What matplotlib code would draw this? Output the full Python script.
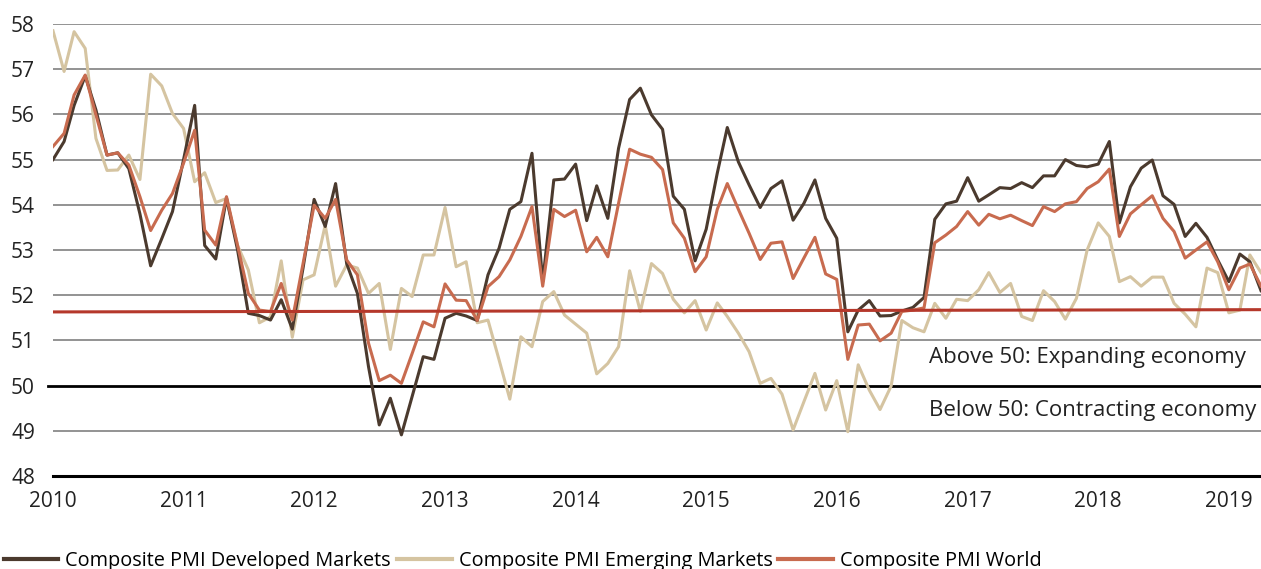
import matplotlib.pyplot as plt
import numpy as np
import pandas as pd

plt.rcParams['font.family'] = ['Open Sans', 'DejaVu Sans']

# monthly composite PMI, Jan 2010 - Apr 2019
months = pd.date_range('2010-01-01', periods=112, freq='MS')

developed = [55.0, 55.4, 56.2, 56.85, 56.1, 55.1, 55.15, 54.8, 53.8, 52.65,
             53.25, 53.85, 55.0, 56.2, 53.1, 52.8, 54.15, 53.0, 51.6, 51.55,
             51.45, 51.9, 51.25, 52.6, 54.12, 53.52, 54.47, 52.7, 52.04, 50.42,
             49.13, 49.72, 48.91, 49.76, 50.64, 50.58, 51.49, 51.6, 51.54, 51.44,
             52.45, 53.04, 53.9, 54.07, 55.14, 52.3, 54.55, 54.57, 54.9, 53.65,
             54.42, 53.7, 55.25, 56.33, 56.58, 55.99, 55.67, 54.19, 53.9, 52.76,
             53.46, 54.7, 55.71, 54.95, 54.44, 53.94, 54.36, 54.53, 53.66, 54.03,
             54.55, 53.7, 53.26, 51.19, 51.67, 51.88, 51.54, 51.55, 51.65, 51.73,
             51.95, 53.68, 54.02, 54.08, 54.6, 54.08, 54.22, 54.38, 54.36, 54.49,
             54.38, 54.64, 54.64, 55.0, 54.87, 54.84, 54.9, 55.4, 53.6, 54.4,
             54.81, 54.99, 54.2, 54.01, 53.3, 53.59, 53.28, 52.78, 52.3, 52.91,
             52.74, 52.1]

emerging = [57.85, 56.95, 57.83, 57.46, 55.47, 54.76, 54.77, 55.1, 54.56, 56.89,
            56.63, 56.02, 55.69, 54.51, 54.71, 54.05, 54.14, 53.1, 52.56, 51.39,
            51.52, 52.76, 51.07, 52.34, 52.45, 53.55, 52.2, 52.67, 52.6, 52.04,
            52.26, 50.8, 52.15, 51.97, 52.89, 52.89, 53.94, 52.63, 52.74, 51.39,
            51.45, 50.57, 49.7, 51.08, 50.86, 51.86, 52.08, 51.56, 51.36, 51.16,
            50.26, 50.49, 50.86, 52.54, 51.64, 52.7, 52.48, 51.91, 51.61, 51.88,
            51.23, 51.83, 51.53, 51.16, 50.75, 50.05, 50.16, 49.81, 49.02, 49.64,
            50.27, 49.46, 50.11, 48.98, 50.46, 49.9, 49.47, 49.99, 51.44, 51.28,
            51.19, 51.82, 51.49, 51.91, 51.88, 52.12, 52.5, 52.06, 52.26, 51.53,
            51.44, 52.1, 51.86, 51.47, 51.93, 53.0, 53.6, 53.3, 52.3, 52.41,
            52.2, 52.4, 52.4, 51.82, 51.58, 51.3, 52.6, 52.5, 51.61, 51.67,
            52.89, 52.5]

world = [55.29, 55.58, 56.43, 56.87, 55.99, 55.1, 55.15, 54.88, 54.18, 53.43,
         53.88, 54.25, 54.92, 55.65, 53.44, 53.11, 54.18, 53.1, 52.04, 51.67,
         51.64, 52.26, 51.45, 52.7, 53.99, 53.7, 54.12, 52.78, 52.45, 50.94,
         50.11, 50.23, 50.05, 50.71, 51.41, 51.3, 52.25, 51.89, 51.88, 51.44,
         52.19, 52.41, 52.78, 53.3, 53.96, 52.2, 53.9, 53.74, 53.88, 52.96,
         53.28, 52.85, 54.03, 55.23, 55.12, 55.05, 54.78, 53.6, 53.26, 52.52,
         52.85, 53.9, 54.47, 53.9, 53.37, 52.79, 53.15, 53.18, 52.37, 52.82,
         53.28, 52.47, 52.35, 50.58, 51.34, 51.36, 50.99, 51.16, 51.64, 51.67,
         51.72, 53.16, 53.33, 53.52, 53.85, 53.55, 53.79, 53.69, 53.77, 53.65,
         53.54, 53.96, 53.85, 54.02, 54.07, 54.36, 54.51, 54.79, 53.3, 53.8,
         54.0, 54.2, 53.7, 53.41, 52.82, 53.0, 53.18, 52.74, 52.12, 52.6,
         52.69, 52.2]

# trend line of the world index (start / end)
trend = [51.63, 51.68]

year_ticks = pd.date_range('2010-01-01', '2019-01-01', freq='YS')
year_labels = [str(d.year) for d in year_ticks]
y_ticks = list(range(48, 59))

c_dev = '#4b3a2e'
c_em = '#d5c4a1'
c_world = '#c86b4f'
c_trend = '#b5382b'

fig = plt.figure(figsize=(12.61, 5.69), dpi=100)
ax = fig.add_axes([53 / 1261, 1 - 476 / 569, 1208 / 1261, 452 / 569])

for v in y_ticks:
    if v in (48, 50):
        continue
    ax.axhline(v, color='#8a8a8a', lw=1.3, zorder=1)
ax.axhline(50, xmin=-0.004, color='black', lw=2, zorder=1, clip_on=False)
ax.axhline(48, color='black', lw=2.2, zorder=1, clip_on=False)

ax.plot(months, developed, color=c_dev, lw=2.2, zorder=3, label='Composite PMI Developed Markets')
ax.plot(months, emerging, color=c_em, lw=2.2, zorder=2, label='Composite PMI Emerging Markets')
ax.plot(months, world, color=c_world, lw=2.2, zorder=4, label='Composite PMI World')
ax.plot([months[0], months[-1]], trend, color=c_trend, lw=2.2, zorder=5)

ax.set_xlim(months[0], months[-1])
ax.set_ylim(48, 58)
ax.set_yticks(y_ticks)
ax.set_yticklabels([str(v) for v in y_ticks])
ax.set_xticks(year_ticks)
ax.set_xticklabels(year_labels)
ax.tick_params(length=0, labelsize=15, colors='#222222')
ax.tick_params(axis='y', pad=13)
ax.tick_params(axis='x', pad=11)
for s in ax.spines.values():
    s.set_visible(False)

tr = ax.get_yaxis_transform()
ax.text(0.725, 50.63, 'Above 50: Expanding economy', transform=tr, fontsize=16,
        va='center', ha='left', color='#222222')
ax.text(0.725, 49.44, 'Below 50: Contracting economy', transform=tr, fontsize=16,
        va='center', ha='left', color='#222222')

handles, labels = ax.get_legend_handles_labels()
leg = fig.legend(handles, labels, loc='lower left', bbox_to_anchor=(0.003, -0.004), ncol=3,
                 frameon=False, fontsize=14.3, handlelength=2.75, handletextpad=0.35,
                 columnspacing=0.3, borderaxespad=0, borderpad=0)
for h in leg.get_lines():
    h.set_linewidth(3)

fig.savefig('out.png', dpi=100)
